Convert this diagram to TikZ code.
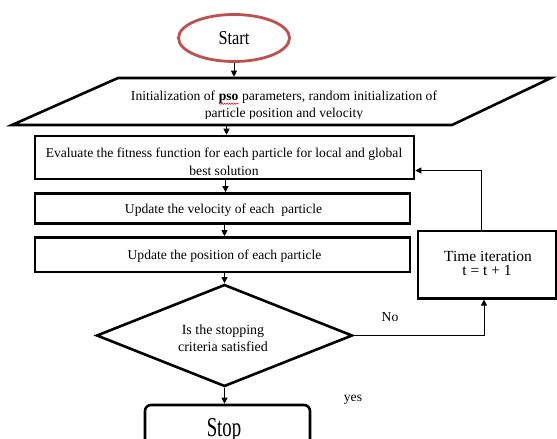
\documentclass[tikz,border=0pt]{standalone}
\usepackage{fontspec}
\setmainfont{Liberation Serif}
\usetikzlibrary{shapes.geometric,arrows.meta,decorations.pathmorphing}
\definecolor{startred}{RGB}{192,80,77}
\newcommand\redwave[1]{\tikz[baseline=(w.base)]{\node[inner sep=0pt,outer sep=0pt,anchor=base] (w) {#1};
  \draw[red,line width=0.5pt,decorate,decoration={snake,segment length=2.5pt,amplitude=0.7pt}] ([yshift=-3pt]w.base west) -- ([yshift=-3pt]w.base east);}}
\newcommand\vstretch[2]{\scalebox{1}[#1]{#2}}
\begin{document}
\begin{tikzpicture}[x=1pt,y=1pt,
  box/.style={draw=black,line width=2.6pt,rectangle,inner sep=0pt},
  conn/.style={draw=black,line width=0.9pt,-{Triangle[width=6pt,length=6pt]}},
  txt/.style={font=\fontsize{13.6}{16}\selectfont,inner sep=0pt,anchor=base},
]
\useasboundingbox (0,0) rectangle (557,-439);
\clip (0,0) rectangle (557,-439);
% start
\node[ellipse,draw=startred,line width=2.8pt,minimum width=111pt,minimum height=47pt,inner sep=0pt,
  font=\fontsize{16.4}{18}\selectfont] (start) at (234,-38) {\vstretch{1.2}{Start}};
% parallelogram
\coordinate (p1) at (118,-78);
\coordinate (p2) at (551,-78);
\coordinate (p3) at (452,-125);
\coordinate (p4) at (12,-125);
\coordinate (init) at (283,-102);
\draw[line width=2.6pt] (p1) -- (p2) -- (p3) -- (p4) -- cycle;
\begin{scope}
  \clip (0,-70) rectangle (557,-118.3);
  \node[txt] (initA) at (284,-100.7) {Initialization of \redwave{\textbf{pso}} parameters, random initialization of};
  \node[txt] (initB) at (284,-117.5) {particle position and velocity};
\end{scope}
% boxes
\node[box,minimum width=379pt,minimum height=43pt] (eval) at (224.5,-157.5) {};
\node[box,minimum width=375pt,minimum height=30pt] (vel) at (222.5,-208.5) {};
\node[box,minimum width=375pt,minimum height=34.5pt] (pos) at (222.5,-254.75) {};
\node[box,minimum width=138pt,minimum height=67.3pt] (time) at (487,-264.65) {};
\node[diamond,draw=black,line width=2.6pt,inner sep=0pt,minimum width=256pt,minimum height=102pt] (dec) at (224.5,-335.5) {};
\node[box,rounded corners=6pt,minimum width=165pt,minimum height=65pt] (stop) at (227.5,-437.5) {};
% texts
\begin{scope}
  \clip (eval.west |- 0,-136) rectangle (eval.east |- 0,-174);
  \node[txt] (evalA) at (224,-157) {Evaluate the fitness function for each particle for local and global};
  \node[txt] (evalB) at (224,-175) {best solution};
\end{scope}
\node[txt] (velT) at (223.5,-213) {Update the velocity of each\ \ particle};
\node[txt] (posT) at (224.5,-259) {Update the position of each particle};
\node[txt,font=\fontsize{14}{16}\selectfont] (decA) at (223,-334.5) {Is the stopping};
\node[txt,font=\fontsize{14}{16}\selectfont] (decB) at (223,-351) {criteria satisfied};
\node[txt,font=\fontsize{15.5}{17}\selectfont] (timeA) at (488,-261) {Time iteration};
\node[txt,font=\fontsize{15.5}{17}\selectfont] (timeB) at (487,-275.5) {t = t + 1};
\node[txt] (no) at (390,-321.5) {No};
\node[txt] (yes) at (353,-401.5) {yes};
\node[txt,font=\fontsize{18.8}{20}\selectfont] (stopT) at (224,-436) {\vstretch{1.45}{Stop}};
% connectors
\draw[conn,shorten >=1.3pt] (start.south) -- (start.south |- p1);
\draw[conn] ([xshift=2pt]eval.north |- p4) -- ([xshift=2pt]eval.north);
\draw[conn] ([xshift=1pt]eval.south) -- ([xshift=1pt]eval.south |- vel.north);
\draw[conn] ([xshift=2pt]vel.south) -- ([xshift=2pt]pos.north);
\draw[conn] ([xshift=2pt]pos.south) -- ([xshift=2pt]pos.south |- dec.north);
\draw[conn] (dec.south) -- (dec.south |- stop.north);
\draw[conn] (dec.east) -| ([xshift=-3pt]time.south);
\draw[conn] ([xshift=-6pt]time.north) |- ([yshift=-13pt]eval.east);
\end{tikzpicture}
\end{document}
